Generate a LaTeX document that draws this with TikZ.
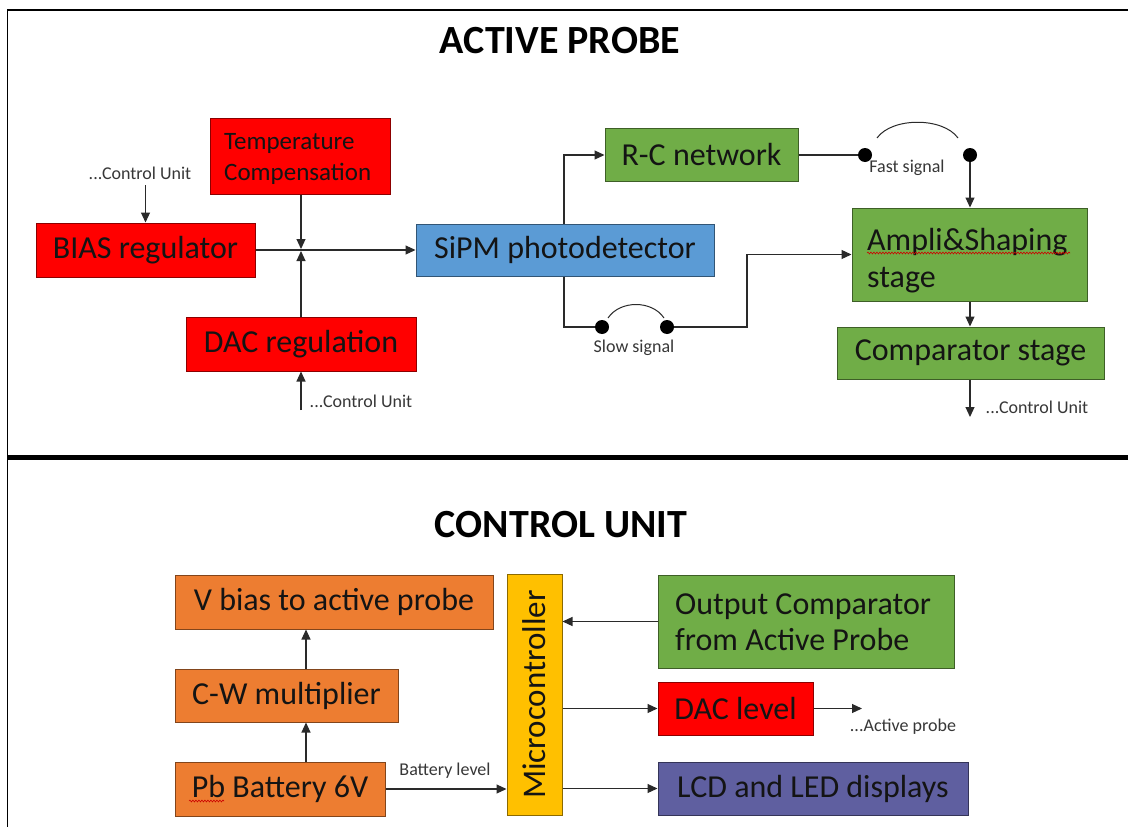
\documentclass[tikz,border=0pt]{standalone}
\usepackage{graphicx}
\usepackage{fontspec}
\setmainfont{Carlito}
\usetikzlibrary{arrows.meta,decorations.pathmorphing}
\definecolor{cred}{HTML}{FF0000}
\definecolor{cblue}{HTML}{5B9BD5}
\definecolor{cgreen}{HTML}{70AD47}
\definecolor{corange}{HTML}{ED7D31}
\definecolor{cyellow}{HTML}{FFC000}
\definecolor{cpurple}{HTML}{5F5FA0}
\definecolor{ctext}{HTML}{141414}
\definecolor{cline}{HTML}{2A2A2A}
\begin{document}
\begin{tikzpicture}[x=1pt,y=-1pt,
  box/.style={draw=#1!55!black, fill=#1, line width=1pt, inner sep=0pt, text=ctext,
    font=\fontsize{32}{38}\selectfont},
  btxt/.style={inner sep=0pt, text=ctext, align=left, anchor=west},
  conn/.style={draw=cline, line width=1.1pt, -{Triangle[length=10pt,width=9pt]}},
  plain/.style={draw=cline, line width=1.1pt},
  lbl/.style={font=\fontsize{18}{21}\selectfont, text=ctext!85, inner sep=0pt},
  dotn/.style={circle, fill=black, minimum size=14pt, inner sep=0pt},
  squig/.style={draw=red!80!black, line width=0.6pt, decorate,
    decoration={snake, amplitude=0.9pt, segment length=3pt}},
  ttl/.style={font=\bfseries\fontsize{40}{48}\selectfont, text=black, inner sep=0pt}
]
\useasboundingbox (0,0) rectangle (1128,827);
\fill[white] (0,0) rectangle (1128,827);
% frame
\draw[line width=1.5pt, black] (7.5,827) -- (7.5,10) -- (1128,10);
\draw[line width=5pt, black] (7,457.5) -- (1128,457.5);

% titles
\node[ttl] (t1) at (560,41) {ACTIVE PROBE};
\node[ttl] (t2) at (561,525) {CONTROL UNIT};

% ---------- ACTIVE PROBE ----------
\node[box=cred, minimum width=180pt, minimum height=76pt] (temp) at (300,156) {};
\node[btxt, font=\fontsize{25}{31}\selectfont] (tempt) at (224,158.5) {Temperature\\Compensation};
\node[box=cred, minimum width=219pt, minimum height=54pt] (bias) at (145.5,250) {BIAS regulator};
\node[box=cred, minimum width=230pt, minimum height=54pt] (dac) at (301,344) {DAC regulation};
\node[box=cblue, minimum width=298pt, minimum height=52pt] (sipm) at (565,250) {SiPM photodetector};
\node[box=cgreen, minimum width=193pt, minimum height=53pt] (rc) at (701.5,155) {R-C network};
\node[box=cgreen, minimum width=235pt, minimum height=93pt] (amp) at (969.5,254.5) {};
\node[btxt, font=\fontsize{32}{37}\selectfont] (ampt) at (867,261) {Ampli\&Shaping\\stage};
\node[box=cgreen, minimum width=267pt, minimum height=52pt] (comp) at (970.5,353) {Comparator stage};

\node[lbl] (cu1) at (140,173) {...Control Unit};
\node[lbl] (cu2) at (361,401) {...Control Unit};
\node[lbl] (cu3) at (1037,407) {...Control Unit};
\node[lbl] (slow) at (634,348) {Slow signal};
\node[lbl] (fast) at (907,168) {Fast signal};

\node[dotn] (d1) at (865,155) {};
\node[dotn] (d2) at (970,155) {};
\node[dotn] (d3) at (602,327) {};
\node[dotn] (d4) at (667,327) {};

\coordinate (j) at (301,250);
\coordinate (cu1a) at (145.5,185);
\coordinate (cu2a) at (301,410);
\coordinate (cu3a) at (970,417);
\coordinate (sx) at (564,0);
\coordinate (bx) at (747,0);

\draw[conn] (bias.east) -- (sipm.west);
\draw[conn] (temp.south -| j) -- ([yshift=1pt]j);
\draw[conn] (dac.north -| j) -- ([yshift=-1pt]j);
\draw[conn] (cu1a) -- (cu1a |- bias.north);
\draw[conn] (cu2a) -- (cu2a |- dac.south);
\draw[conn] (sipm.north -| sx) |- (rc.west);
\draw[plain] (rc.east) -- (d1);
\draw[conn] (d2) -- (d2 |- amp.north);
\draw[plain] (sipm.south -| sx) |- (d3);
\draw[conn] (d4) -- (d4 -| bx) |- (amp.west);
\draw[conn] (amp.south -| cu3a) -- (comp.north -| cu3a);
\draw[conn] (comp.south -| cu3a) -- (cu3a);
% switch arcs
\draw[cline, line width=1pt] (608,318) .. controls (620,300) and (652,300) .. (664,318);
\draw[cline, line width=1pt] (877,138) .. controls (892,117) and (943,117) .. (958,138);
\draw[squig] (867,253) -- (1070,253);

% ---------- CONTROL UNIT ----------
\node[box=corange, minimum width=318pt, minimum height=54pt] (vbias) at (334,602) {V bias to active probe};
\node[box=corange, minimum width=223pt, minimum height=53pt] (cw) at (286.5,695.5) {C-W multiplier};
\node[box=corange, minimum width=210pt, minimum height=54pt] (pb) at (280,789) {Pb Battery 6V};
\node[box=cyellow, minimum width=55pt, minimum height=241pt] (micro) at (534.5,694.5) {\rotatebox{90}{\fontsize{33}{38}\selectfont Microcontroller}};
\node[box=cgreen, minimum width=296pt, minimum height=93pt] (outc) at (806,621.5) {};
\node[btxt, font=\fontsize{32}{36}\selectfont] (outct) at (675,622) {Output Comparator\\from Active Probe};
\node[box=cred, minimum width=155pt, minimum height=53pt] (daclev) at (735.5,708.5) {DAC level};
\node[box=cpurple, minimum width=310pt, minimum height=53pt] (lcd) at (813,788.5) {LCD and LED displays};

\node[lbl] (batl) at (445,771) {Battery level};
\node[lbl] (actp) at (903,727) {...Active probe};

\coordinate (cwx) at (306,0);
\coordinate (ap) at (862,708.5);
\draw[conn] (cw.north -| cwx) -- (vbias.south -| cwx);
\draw[conn] (pb.north -| cwx) -- (cw.south -| cwx);
\draw[conn] (pb.east) -- (pb.east -| micro.west);
\draw[conn] (outc.west) -- (outc.west -| micro.east);
\draw[conn] (micro.east |- daclev.west) -- (daclev.west);
\draw[conn] (micro.east |- lcd.west) -- (lcd.west);
\draw[conn] (daclev.east) -- (ap);
\draw[squig] (189,801) -- (224,801);
\end{tikzpicture}
\end{document}
